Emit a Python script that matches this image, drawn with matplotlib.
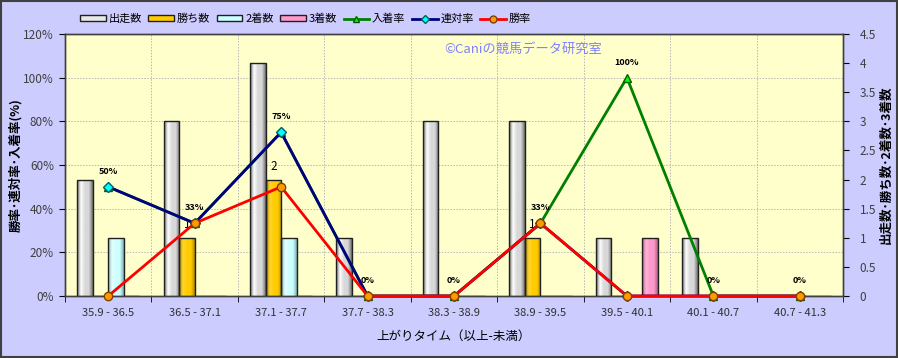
import numpy as np
import matplotlib
matplotlib.use("Agg")
import matplotlib.pyplot as plt
from matplotlib.colors import LinearSegmentedColormap
from matplotlib.patches import Patch, Rectangle
from matplotlib.lines import Line2D
from matplotlib.ticker import FuncFormatter, MultipleLocator

plt.rcParams['font.family'] = ['Noto Sans CJK JP', 'DejaVu Sans']

categories = ["35.9 - 36.5", "36.5 - 37.1", "37.1 - 37.7", "37.7 - 38.3", "38.3 - 38.9",
              "38.9 - 39.5", "39.5 - 40.1", "40.1 - 40.7", "40.7 - 41.3"]
runs = [2, 3, 4, 1, 3, 3, 1, 1, 0]
wins = [0, 1, 2, 0, 0, 1, 0, 0, 0]
seconds = [1, 0, 1, 0, 0, 0, 0, 0, 0]
thirds = [0, 0, 0, 0, 0, 0, 1, 0, 0]
win_rate = [0, 33.3, 50, 0, 0, 33.3, 0, 0, 0]
rentai_rate = [50, 33.3, 75, 0, 0, 33.3, 0, 0, 0]
place_rate = [50, 33.3, 75, 0, 0, 33.3, 100, 0, 0]

BG = '#CCCCFF'
fig = plt.figure(figsize=(8.98, 3.58), dpi=100, facecolor=BG)
ax1 = fig.add_axes([0.0724, 0.1732, 0.8664, 0.7318])
ax1.set_facecolor('#FFFFCC')
ax2 = ax1.twinx()

x = np.arange(len(categories))
w = 0.18

def grad_bars(ax, xs, vals, base, light, dark):
    bars = ax.bar(xs, vals, width=w, facecolor='none', edgecolor='#202020', linewidth=1.0, zorder=3)
    cmap = LinearSegmentedColormap.from_list('g', [dark, light, base, base, dark])
    grad = np.linspace(0, 1, 64).reshape(1, -1)
    for b in bars:
        if b.get_height() <= 0:
            continue
        bx, by, bw, bh = b.get_x(), b.get_y(), b.get_width(), b.get_height()
        im = ax.imshow(grad, extent=[bx, bx + bw, by, by + bh], aspect='auto', cmap=cmap,
                       zorder=2.9, interpolation='bilinear')
        im.set_clip_path(b)
    return bars

grad_bars(ax1, x - 1.5 * w, runs, '#D8D8D8', '#FFFFFF', '#707070')
wb = grad_bars(ax1, x - 0.5 * w, wins, '#FFCC00', '#FFD633', '#B08800')
grad_bars(ax1, x + 0.5 * w, seconds, '#CCFFFF', '#E6FFFF', '#80B0B0')
grad_bars(ax1, x + 1.5 * w, thirds, '#FF99CC', '#FFB3D9', '#B06080')

for b, v in zip(wb, wins):
    if v > 0:
        ax1.annotate(str(v), (b.get_x() + b.get_width() / 2, v), xytext=(0, 5),
                     textcoords='offset points', ha='center', va='bottom', fontsize=8.5, zorder=5)

ax1.set_xlim(-0.5, len(categories) - 0.5)
ax1.set_ylim(0, 4.5)
ax2.set_ylim(0, 120)

# grid
for p in np.arange(20, 121, 20):
    ax1.axhline(p / 120 * 4.5, color='#B8B8B8', linestyle=(0, (1.5, 1.5)), linewidth=0.7, zorder=1)
ax1.set_xticks(x)
ax1.set_xticklabels(categories, fontsize=8, color='#303030')
ax1.set_xticks(np.arange(-0.5, len(categories), 1), minor=True)
ax1.grid(which='minor', axis='x', color='#B8B8B8', linestyle=(0, (1.5, 1.5)), linewidth=0.7, zorder=1)
ax1.tick_params(axis='x', which='major', length=0, pad=9)
ax1.tick_params(axis='x', which='minor', length=4)
ax1.set_axisbelow(True)

# right axis (counts) on ax1
ax1.yaxis.tick_right()
ax1.yaxis.set_label_position('right')
ax1.yaxis.set_major_locator(MultipleLocator(0.5))
ax1.yaxis.set_major_formatter(FuncFormatter(lambda v, p: '%g' % v))
ax1.tick_params(axis='y', labelsize=8.5, labelcolor='#404040', length=4, pad=8)
ax1.set_ylabel('出走数･勝ち数･2着数･3着数', fontsize=9, fontweight='bold', rotation=90)
ax1.yaxis.set_label_coords(1.0476, 0.5)

# left axis (rates) on ax2
ax2.yaxis.tick_left()
ax2.yaxis.set_label_position('left')
ax2.yaxis.set_major_locator(MultipleLocator(20))
ax2.yaxis.set_major_formatter(FuncFormatter(lambda v, p: '%d%%' % v))
ax2.tick_params(axis='y', labelsize=8.5, labelcolor='#404040', length=4, pad=4)
ax2.set_ylabel('勝率･連対率･入着率(%)', fontsize=9, fontweight='bold', rotation=90)
ax2.yaxis.set_label_coords(-0.055, 0.5)

for ax in (ax1, ax2):
    for s in ax.spines.values():
        s.set_color('#404040')
        s.set_linewidth(1.0)

ax2.plot(x, place_rate, color='#008000', linewidth=2, marker='^', markersize=6,
         markerfacecolor='#00FF00', markeredgecolor='#006000', zorder=4, clip_on=False)
ax2.plot(x, rentai_rate, color='#000080', linewidth=2, marker='D', markersize=5,
         markerfacecolor='#00FFFF', markeredgecolor='#006060', zorder=5, clip_on=False)
ax2.plot(x, win_rate, color='#FF0000', linewidth=2, marker='o', markersize=6,
         markerfacecolor='#FF9900', markeredgecolor='#804000', zorder=6, clip_on=False)

for xi, v in zip(x, place_rate):
    ax2.annotate('%d%%' % round(v), (xi, v), xytext=(0, 8), textcoords='offset points',
                 ha='center', va='bottom', fontsize=6.5, fontweight='bold', zorder=7)

ax1.set_xlabel('上がりタイム（以上-未満）', fontsize=9, labelpad=8)

ax1.text(0.488, 0.94, '©Caniの競馬データ研究室', transform=ax1.transAxes, color='#8080FF',
         fontsize=9.5, ha='left', va='center', zorder=8)

handles = [
    Patch(facecolor='#E8E8E8', edgecolor='#202020', label='出走数'),
    Patch(facecolor='#FFCC00', edgecolor='#202020', label='勝ち数'),
    Patch(facecolor='#CCFFFF', edgecolor='#202020', label='2着数'),
    Patch(facecolor='#FF99CC', edgecolor='#202020', label='3着数'),
    Line2D([], [], color='#008000', linewidth=2, marker='^', markersize=5,
           markerfacecolor='#00FF00', markeredgecolor='#006000', label='入着率'),
    Line2D([], [], color='#000080', linewidth=2, marker='D', markersize=4,
           markerfacecolor='#00FFFF', markeredgecolor='#006060', label='連対率'),
    Line2D([], [], color='#FF0000', linewidth=2, marker='o', markersize=5,
           markerfacecolor='#FF9900', markeredgecolor='#804000', label='勝率'),
]
fig.legend(handles=handles, loc='upper left', bbox_to_anchor=(0.078, 0.99), ncol=7,
           frameon=False, fontsize=8, handlelength=2.3, handleheight=0.45,
           columnspacing=0.6, handletextpad=0.25)

fig.add_artist(Rectangle((0.001, 0.002), 0.998, 0.995, transform=fig.transFigure,
                         fill=False, edgecolor='#404040', linewidth=1.5))

fig.savefig('out.png', dpi=100, facecolor=BG)
